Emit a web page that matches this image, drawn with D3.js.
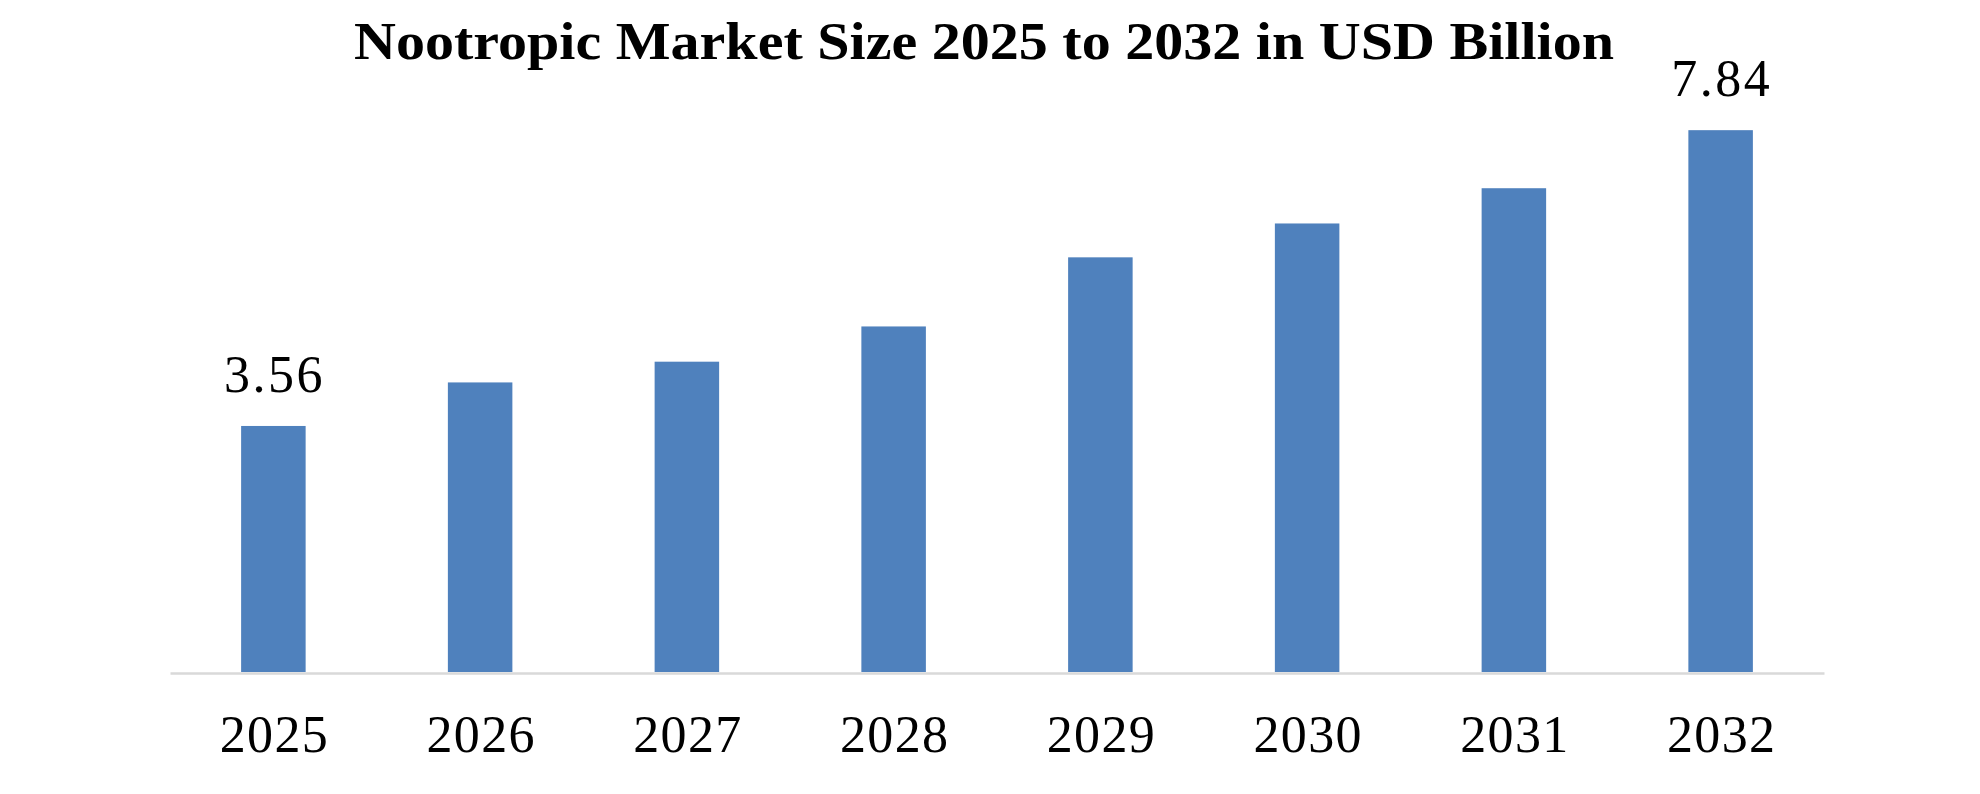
<!DOCTYPE html>
<html>
<head>
<meta charset="utf-8">
<script src="https://cdn.jsdelivr.net/npm/d3@7"></script>
<style>
  html, body { margin: 0; padding: 0; background: #fff; }
</style>
</head>
<body>
<script>
const width = 1980;
const height = 794;

const years = ['2025', '2026', '2027', '2028', '2029', '2030', '2031', '2032'];
const values = [3.56, 4.19, 4.49, 5.00, 6.00, 6.49, 7.00, 7.84];
// only first and last bars carry a label in the original
const labelled = ['2025', '2032'];
const titleText = 'Nootropic Market Size 2025 to 2032 in USD Billion';

const svg = d3.select('body')
    .append('svg')
    .attr('width', width)
    .attr('height', height);

const xScale = d3.scaleBand()
    .domain(years)
    .range([170, 1824])
    .paddingInner(0.688)
    .paddingOuter(0.344);

const yScale = d3.scaleLinear()
    .domain([0, 9])
    .range([672, 50]);

// bars
svg.selectAll('rect.bar')
    .data(years)
    .enter()
    .append('rect')
    .attr('class', 'bar')
    .attr('x', d => xScale(d))
    .attr('y', (d, i) => yScale(values[i]))
    .attr('width', xScale.bandwidth())
    .attr('height', (d, i) => yScale(0) - yScale(values[i]))
    .style('fill', '#4f81bd');

// x axis
const xAxis = d3.axisBottom(xScale).tickSize(0).tickPadding(42);
const gx = svg.append('g')
    .attr('transform', `translate(0, ${yScale(0) + 1})`)
    .call(xAxis);
gx.select('.domain')
    .attr('stroke', '#d9d9d9')
    .attr('stroke-width', 2.5);
gx.selectAll('text')
    .attr('fill', '#000')
    .attr('dx', 1)
    .style('font-family', '"Liberation Serif", serif')
    .style('font-size', '52px')
    .style('letter-spacing', '1.3px');

// value labels
svg.selectAll('text.value')
    .data(years.filter(d => labelled.includes(d)))
    .enter()
    .append('text')
    .attr('class', 'value')
    .attr('x', d => xScale(d) + xScale.bandwidth() / 2 + 1)
    .attr('y', d => yScale(values[years.indexOf(d)]) - 34)
    .attr('text-anchor', 'middle')
    .style('font-family', '"Liberation Serif", serif')
    .style('font-size', '52px')
    .style('letter-spacing', '2.5px')
    .text(d => values[years.indexOf(d)].toFixed(2));

// title
svg.append('text')
    .attr('x', 984)
    .attr('y', 59)
    .attr('text-anchor', 'middle')
    .attr('textLength', 1260)
    .attr('lengthAdjust', 'spacingAndGlyphs')
    .style('font-family', '"Liberation Serif", serif')
    .style('font-weight', 'bold')
    .style('font-size', '52px')
    .text(titleText);
</script>
</body>
</html>
